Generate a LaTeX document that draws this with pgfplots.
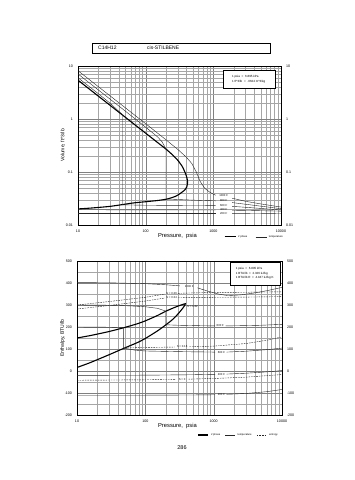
\documentclass[border=0pt]{standalone}
\usepackage{pgfplots}
\pgfplotsset{compat=1.18}
\usepackage{fontspec}
\setmainfont{Liberation Sans}
\newcommand{\tk}{\fontsize{3.6}{4}\selectfont}
\newcommand{\lb}{\fontsize{2.8}{3.2}\selectfont}
\tikzset{
  mysat/.style={black, line width=1.1pt, smooth, tension=0.4},
  myiso/.style={black!85, line width=0.4pt},
  myent/.style={black!85, line width=0.4pt, dash pattern=on 1.6pt off 1pt},
}
\begin{document}
\begin{tikzpicture}
\path[use as bounding box] (0pt,0pt) rectangle (355pt,480pt);
% title box
\draw[line width=0.5pt] (92pt,427pt) rectangle (270pt,437pt);
\node[anchor=west,font=\fontsize{5}{6}\selectfont,inner sep=0pt] at (98pt,432pt) {C14H12};
\node[anchor=west,font=\fontsize{5}{6}\selectfont,inner sep=0pt] at (147pt,432pt) {cis-STILBENE};
\node[font=\fontsize{5.5}{6}\selectfont] at (182pt,32pt) {286};

%================ TOP: Volume =================
\begin{axis}[scale only axis, xmode=log, xmin=10, xmax=10000,
  xtick={10,100,1000,10000}, xticklabels={10,100,1000,10000},
  grid=both, major grid style={black!50, line width=0.3pt},
  minor grid style={black!35, line width=0.25pt},
  major tick length=0pt, minor tick length=0pt,
  ticklabel style={font=\tk}, /pgf/number format/assume math mode=true,
  axis line style={line width=0.5pt},
  xticklabel style={yshift=-1pt}, yticklabel style={xshift=-1.5pt},
  legend cell align=left,
  at={(78pt,255pt)}, anchor=south west, width=203pt, height=159pt,
  ymode=log, ymin=0.01, ymax=10,
  ytick={0.01,0.1,1,10}, yticklabels={0.01,0.1,1,10},
  xlabel={Pressure, \ psia}, ylabel={Volume, ft\textasciicircum 3/lb},
  xlabel style={font=\fontsize{5.8}{6}\selectfont, at={(rel axis cs:0.49,-0.072)}, anchor=center},
  ylabel style={font=\fontsize{5}{6}\selectfont, at={(rel axis cs:-0.075,0.5)}, anchor=center, rotate=0},
  legend style={at={(rel axis cs:1.02,-0.075)}, anchor=east, draw=none, fill=none,
    font=\fontsize{2.6}{3}\selectfont, legend columns=2, inner sep=0pt,
    /tikz/every even column/.append style={column sep=6pt}},
  legend image code/.code={\draw[#1] (0pt,0pt) -- (11pt,0pt);},
]
\addlegendimage{black, line width=1.1pt}\addlegendentry{2 phase}
\addlegendimage{black!85, line width=0.4pt}\addlegendentry{temperature}
% saturation dome
\addplot[mysat, forget plot] coordinates {(10,5.4)(15,3.6)(20,2.7)(30,1.8)(50,1.08)(70,0.77)(100,0.54)(150,0.36)(200,0.27)(250,0.21)(300,0.165)(350,0.125)(390,0.092)(410,0.075)(417,0.064)(405,0.052)(380,0.046)(330,0.040)(280,0.035)(210,0.031)(150,0.029)(100,0.0275)(65,0.026)(30,0.0225)(15,0.0208)(10,0.0201)};
% 1000 F
\addplot[myiso, forget plot] coordinates {(10,8.15)(20,4.07)(50,1.63)(100,0.815)(200,0.405)(300,0.265)(400,0.19)(480,0.145)(560,0.10)(640,0.066)(750,0.049)(900,0.041)(1080,0.0365)};
\addplot[myiso, forget plot] coordinates {(1900,0.032)(3000,0.028)(5000,0.025)(10000,0.0218)};
% 800 F
\addplot[myiso, forget plot] coordinates {(10,7.07)(20,3.53)(50,1.41)(100,0.70)(150,0.46)(175,0.37)(200,0.27)(200,0.031)(400,0.0298)(700,0.0290)(1080,0.0286)};
\addplot[myiso, forget plot] coordinates {(1900,0.0265)(4000,0.0235)(10000,0.0203)};
% 600 F
\addplot[myiso, forget plot] coordinates {(10,6.0)(20,3.0)(30,1.97)(45,1.22)(45,0.024)(100,0.0236)(300,0.0234)(700,0.0233)(1080,0.0232)};
\addplot[myiso, forget plot] coordinates {(1900,0.0225)(4000,0.021)(10000,0.0192)};
% 400 F
\addplot[myiso, forget plot] coordinates {(10,0.0194)(100,0.0193)(500,0.0192)(1080,0.0192)};
\addplot[myiso, forget plot] coordinates {(1900,0.019)(4000,0.0187)(10000,0.0183)};
% 200 F
\addplot[myiso, forget plot] coordinates {(10,0.0166)(100,0.0166)(1080,0.0166)};
\addplot[myiso, forget plot] coordinates {(1900,0.0166)(4000,0.0165)(10000,0.0163)};
\node[font=\lb] at (axis cs:1420,0.0355) {1000 F};
\node[font=\lb] at (axis cs:1420,0.0287) {800 F};
\node[font=\lb] at (axis cs:1420,0.0232) {600 F};
\node[font=\lb] at (axis cs:1420,0.0193) {400 F};
\node[font=\lb] at (axis cs:1420,0.0165) {200 F};
\node[draw, line width=0.4pt, fill=white, anchor=north east, align=left,
  font=\fontsize{3}{4.2}\selectfont, minimum width=52pt, minimum height=18pt, inner sep=2.5pt]
  at (rel axis cs:0.97,0.975) {1 psia \ = \ 6.895 kPa\\1 ft\textasciicircum 3/lb \ = \ .0624 m\textasciicircum 3/kg};
\end{axis}
\begin{axis}[scale only axis, xmode=log, xmin=10, xmax=10000,
  axis x line=none, axis y line*=right, axis line style={draw=none},
  major tick length=0pt, minor tick length=0pt,
  ticklabel style={font=\tk}, yticklabel style={xshift=1.5pt},
  /pgf/number format/assume math mode=true,
  at={(78pt,255pt)}, anchor=south west, width=203pt, height=159pt,
  ymode=log, ymin=0.01, ymax=10, ytick={0.01,0.1,1,10}, yticklabels={0.01,0.1,1,10}]
\addplot[draw=none] coordinates {(10,1)};
\end{axis}

%================ BOTTOM: Enthalpy =================
\begin{axis}[scale only axis, xmode=log, xmin=10, xmax=10000,
  xtick={10,100,1000,10000}, xticklabels={10,100,1000,10000},
  grid=both, major grid style={black!50, line width=0.3pt},
  minor grid style={black!35, line width=0.25pt},
  major tick length=0pt, minor tick length=0pt,
  ticklabel style={font=\tk}, /pgf/number format/assume math mode=true,
  axis line style={line width=0.5pt},
  xticklabel style={yshift=-1pt}, yticklabel style={xshift=-1.5pt},
  legend cell align=left,
  at={(77pt,65pt)}, anchor=south west, width=205pt, height=154pt,
  ymin=-200, ymax=500, ytick={-200,-100,...,500}, minor y tick num=1,
  xlabel={Pressure, \ psia}, ylabel={Enthalpy, BTU/lb},
  xlabel style={font=\fontsize{5.8}{6}\selectfont, at={(rel axis cs:0.49,-0.073)}, anchor=center},
  ylabel style={font=\fontsize{5}{6}\selectfont, at={(rel axis cs:-0.07,0.5)}, anchor=center, rotate=0},
  legend style={at={(rel axis cs:0.99,-0.13)}, anchor=east, draw=none, fill=none,
    font=\fontsize{2.6}{3}\selectfont, legend columns=3, inner sep=0pt,
    /tikz/every even column/.append style={column sep=3pt}},
  legend image code/.code={\draw[#1] (0pt,0pt) -- (10pt,0pt);},
]
\addlegendimage{black, line width=1.1pt}\addlegendentry{2 phase}
\addlegendimage{black!85, line width=0.4pt}\addlegendentry{temperature}
\addlegendimage{black!85, line width=0.4pt, dash pattern=on 1.6pt off 1pt}\addlegendentry{entropy}
% saturation dome
\addplot[mysat, forget plot] coordinates {(10,150)(15,160)(20,168)(30,180)(50,198)(75,214)(100,228)(150,252)(200,272)(250,285)(300,295)(350,302)(385,306)(380,300)(350,284)(300,259)(250,234)(200,210)(150,182)(100,148)(75,128)(50,105)(30,75)(20,52)(15,36)(10,16)};
% 1000 F
\addplot[myiso, forget plot] coordinates {(10,402)(30,401)(100,397)(200,392)(320,387)};
\addplot[myiso, forget plot] coordinates {(580,378)(800,364)(1200,349)(1600,343)(2500,346)(4000,355)(6000,365)(10000,380)};
% 800 F
\addplot[myiso, forget plot] coordinates {(10,300)(30,299)(60,296)(100,292)(150,285)(200,272)(200,210)(300,208)(600,206)(1050,205)};
\addplot[myiso, forget plot] coordinates {(1500,205)(2500,206)(5000,208)(10000,212)};
% 600 F
\addplot[myiso, forget plot] coordinates {(10,200)(30,199)(48,197)(48,104)(70,95)(100,91)(300,88)(1050,86)};
\addplot[myiso, forget plot] coordinates {(1550,86)(3000,90)(6000,97)(10000,104)};
% 400 F
\addplot[myiso, forget plot] coordinates {(10,-20)(100,-19)(500,-17)(1050,-15)};
\addplot[myiso, forget plot] coordinates {(1550,-14)(3000,-10)(6000,-4)(10000,2)};
% 200 F
\addplot[myiso, forget plot] coordinates {(10,-110)(100,-110)(500,-109)(1050,-108)};
\addplot[myiso, forget plot] coordinates {(1550,-106)(3000,-102)(6000,-94)(10000,-84)};
% entropy
\addplot[myent, forget plot] coordinates {(10,300)(30,316)(100,335)(195,350)};
\addplot[myent, forget plot] coordinates {(300,353)(500,355)(1000,357)(3000,358)(10000,360)};
\addplot[myent, forget plot] coordinates {(10,282)(30,298)(100,318)(195,332)};
\addplot[myent, forget plot] coordinates {(300,334)(500,335)(1000,335)(3000,336)(10000,338)};
\addplot[myent, forget plot] coordinates {(50,105)(100,107)(270,109)};
\addplot[myent, forget plot] coordinates {(440,110)(1000,113)(3000,125)(6000,140)(10000,155)};
\addplot[myent, forget plot] coordinates {(10,-42)(100,-40)(280,-38)};
\addplot[myent, forget plot] coordinates {(430,-37)(1000,-34)(3000,-28)(10000,-16)};
\node[font=\lb] at (axis cs:440,386) {1000 F};
\node[font=\lb] at (axis cs:242,352) {S = 0.36};
\node[font=\lb] at (axis cs:242,333) {S = 0.34};
\node[font=\lb] at (axis cs:490,291) {S = 0.32};
\node[font=\lb] at (axis cs:1250,205) {800 F};
\node[font=\lb] at (axis cs:345,109) {S = 0.16};
\node[font=\lb] at (axis cs:1300,86) {600 F};
\node[font=\lb] at (axis cs:1300,-14) {400 F};
\node[font=\lb] at (axis cs:345,-37) {S = 0};
\node[font=\lb] at (axis cs:1300,-106) {200 F};
\node[draw, line width=0.4pt, fill=white, anchor=north east, align=left,
  font=\fontsize{3}{4.4}\selectfont, minimum width=50pt, minimum height=23pt, inner sep=2.5pt]
  at (rel axis cs:0.99,0.995) {1 psia \ = \ 6.895 kPa\\1 BTU/lb \ = \ 2.326 kJ/kg\\1 BTU/lb R \ = \ 4.187 kJ/kg K};
\node[font=\fontsize{3}{3.5}\selectfont, anchor=west, inner sep=0pt] at (rel axis cs:-0.034,-0.13)
  {Datum: Ideal Gas @ 77 F (25 C); \ H = 0, \ S = 0 at P = 0};
\end{axis}
\begin{axis}[scale only axis, xmode=log, xmin=10, xmax=10000,
  axis x line=none, axis y line*=right, axis line style={draw=none},
  major tick length=0pt, minor tick length=0pt,
  ticklabel style={font=\tk}, yticklabel style={xshift=1.5pt},
  /pgf/number format/assume math mode=true,
  at={(77pt,65pt)}, anchor=south west, width=205pt, height=154pt,
  ymin=-200, ymax=500, ytick={-200,-100,...,500}]
\addplot[draw=none] coordinates {(10,0)};
\end{axis}
\end{tikzpicture}
\end{document}
